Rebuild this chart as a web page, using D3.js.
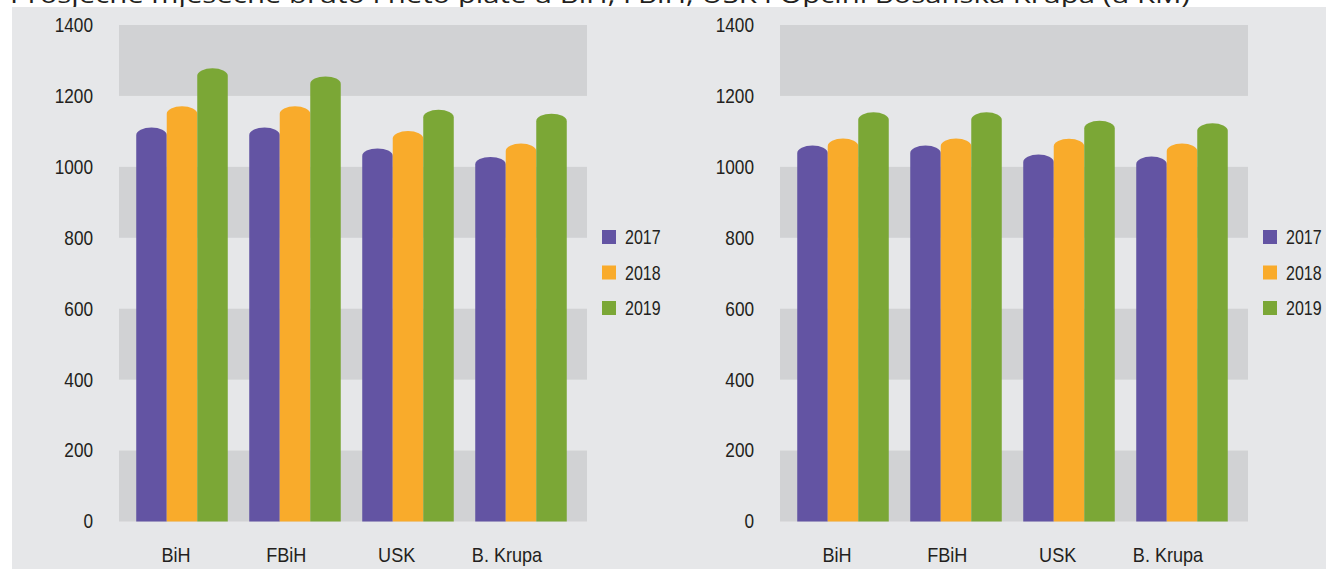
<!DOCTYPE html>
<html>
<head>
<meta charset="utf-8">
<script src="https://cdn.jsdelivr.net/npm/d3@7"></script>
<style>
  body { margin: 0; background: #fff; }
  svg { display: block; }
  text { font-family: "Liberation Sans", Arial, sans-serif; fill: #231f20; }
</style>
</head>
<body>
<svg id="chart" width="1326" height="569"></svg>
<script>
// data
const categories = ["BiH", "FBiH", "USK", "B. Krupa"];
const years = ["2017", "2018", "2019"];
const bruto2017 = [1111, 1111, 1052, 1028];
const bruto2018 = [1171, 1171, 1101, 1066];
const bruto2019 = [1278, 1255, 1161, 1150];
const neto2017 = [1060, 1060, 1035, 1029];
const neto2018 = [1080, 1080, 1079, 1066];
const neto2019 = [1154, 1154, 1130, 1123];
const yTicks = [0, 200, 400, 600, 800, 1000, 1200, 1400];
const colors = ["#6354a3", "#f9ab2b", "#7ba736"];
const title = "Prosječne mjesečne bruto i neto plate u BiH, FBiH, USK i Općini Bosanska Krupa (u KM)";

const svg = d3.select("#chart");

// squeeze text horizontally, the original uses a condensed face
function narrow(sel, k) {
  sel.each(function() {
    const w = this.getComputedTextLength();
    d3.select(this)
      .attr("textLength", w * k)
      .attr("lengthAdjust", "spacingAndGlyphs");
  });
}

svg.append("text")
  .attr("x", 10)
  .attr("y", 3)
  .attr("textLength", 1180)
  .attr("lengthAdjust", "spacingAndGlyphs")
  .style("font-family", "'Open Sans', sans-serif")
  .style("font-size", "24px")
  .text(title);

svg.append("rect")
  .attr("x", 12).attr("y", 7)
  .attr("width", 1314).attr("height", 562)
  .attr("fill", "#e6e7e9");

const y = d3.scaleLinear().domain([0, 1400]).range([521.5, 25]);

function drawChart(offset, series) {
  const g = svg.append("g").attr("transform", `translate(${offset},0)`);
  const plotLeft = 119, plotRight = 587;

  // shaded bands
  const bands = [];
  for (let i = 0; i < yTicks.length - 1; i++) {
    if (i % 2 == 0) bands.push([yTicks[i], yTicks[i + 1]]);
  }
  g.selectAll(".band")
    .data(bands)
    .enter()
    .append("rect")
    .attr("class", "band")
    .attr("x", plotLeft)
    .attr("width", plotRight - plotLeft)
    .attr("y", d => y(d[1]))
    .attr("height", d => y(d[0]) - y(d[1]))
    .attr("fill", "#d1d2d4");

  const yAxis = d3.axisLeft(y).tickValues(yTicks).tickFormat(d3.format("d")).tickSize(0).tickPadding(0);
  const ya = g.append("g")
    .attr("transform", `translate(93,0)`)
    .call(yAxis)
    .attr("font-family", null)
    .attr("font-size", null);
  ya.select(".domain").remove();
  ya.selectAll("text")
    .style("font-size", "20px")
    .attr("fill", "#231f20")
    .call(narrow, 0.86);

  const x0 = d3.scaleBand()
    .domain(categories)
    .range([125.5, 577.5])
    .paddingInner(0.19)
    .paddingOuter(0.095);
  const x1 = d3.scaleBand()
    .domain(years)
    .range([0, x0.bandwidth()]);

  const rows = categories.map((c, i) => ({
    cat: c,
    vals: years.map((yr, j) => ({ year: yr, value: series[j][i], color: colors[j] }))
  }));

  const ry = 7.5;
  function cylinder(d) {
    const w = x1.bandwidth();
    const top = y(d.value);
    const bottom = y(0);
    return `M0,${bottom} L0,${top + ry} A${w / 2},${ry} 0 0 1 ${w},${top + ry} L${w},${bottom} Z`;
  }

  g.selectAll(".group")
    .data(rows)
    .enter()
    .append("g")
    .attr("class", "group")
    .attr("transform", d => `translate(${x0(d.cat)},0)`)
    .selectAll("path")
    .data(d => d.vals)
    .enter()
    .append("path")
    .attr("transform", d => `translate(${x1(d.year)},0)`)
    .attr("d", cylinder)
    .attr("fill", d => d.color);

  // category labels
  const xLabel = d3.scalePoint().domain(categories).range([176, 507]);
  g.selectAll(".cat")
    .data(categories)
    .enter()
    .append("text")
    .attr("class", "cat")
    .attr("x", d => xLabel(d))
    .attr("y", 562)
    .attr("text-anchor", "middle")
    .style("font-size", "21px")
    .text(d => d)
    .call(narrow, 0.86);

  // legend
  const legendY = d3.scalePoint().domain(years).range([237, 308]);
  const leg = g.selectAll(".leg")
    .data(years)
    .enter()
    .append("g")
    .attr("class", "leg")
    .attr("transform", d => `translate(602,${legendY(d)})`);
  leg.append("rect")
    .attr("x", 0).attr("y", -7)
    .attr("width", 14).attr("height", 14)
    .attr("fill", (d, i) => colors[i]);
  leg.append("text")
    .attr("x", 23)
    .attr("y", 0)
    .attr("dy", "0.35em")
    .style("font-size", "20px")
    .text(d => d)
    .call(narrow, 0.8);
}

drawChart(0, [bruto2017, bruto2018, bruto2019]);
drawChart(661, [neto2017, neto2018, neto2019]);
</script>
</body>
</html>
